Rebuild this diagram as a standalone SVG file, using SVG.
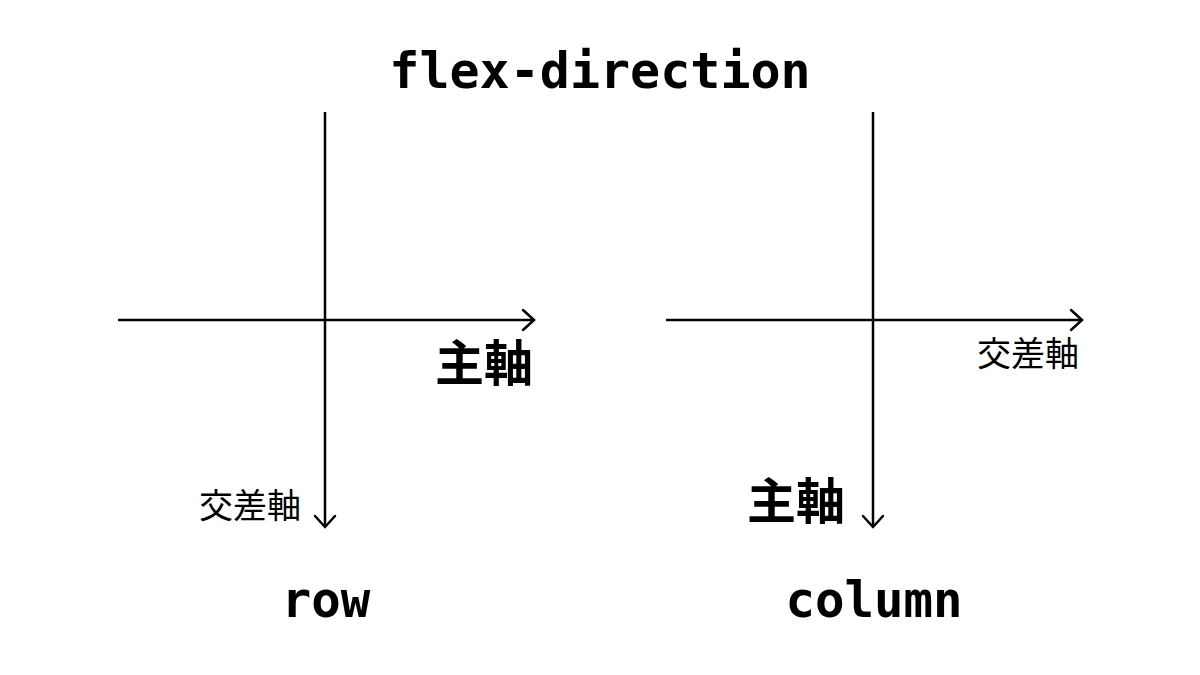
<svg xmlns="http://www.w3.org/2000/svg" width="1200" height="675" viewBox="0 0 1200 675">
<style>
.ax{stroke:#000;stroke-width:2.5;fill:none}
.hd{stroke:#000;stroke-width:2.5;fill:none;stroke-linecap:round;stroke-linejoin:miter}
.mono{font-family:"DejaVu Sans Mono","Liberation Mono",monospace;font-weight:bold;fill:#000;text-anchor:middle}
.main{font-family:"Noto Sans CJK JP","Noto Sans CJK SC",sans-serif;font-weight:bold;font-size:49px;fill:#000}
.cross{font-family:"Noto Sans CJK JP","Noto Sans CJK SC",sans-serif;font-weight:normal;font-size:34px;fill:#000}
</style>
<rect width="1200" height="675" fill="#fff"/>
<g id="title"><text class="mono" x="600" y="88" font-size="50">flex-direction</text></g>
<g id="connectors">
<line class="ax" x1="325" y1="112" x2="325" y2="526"/>
<line class="ax" x1="118" y1="320" x2="533" y2="320"/>
<path class="hd" d="M523 310 L534 320 L523 330"/>
<path class="hd" d="M315 516 L325 527 L335 516"/>
<line class="ax" x1="873" y1="112" x2="873" y2="526"/>
<line class="ax" x1="666" y1="320" x2="1081" y2="320"/>
<path class="hd" d="M1071 310 L1082 320 L1071 330"/>
<path class="hd" d="M863 516 L873 527 L883 516"/>
</g>
<g id="row-main"><text class="main" x="435" y="381">主軸</text></g>
<g id="row-cross"><text class="cross" x="199" y="518">交差軸</text></g>
<g id="row-label"><text class="mono" x="326" y="617" font-size="49">row</text></g>
<g id="col-cross"><text class="cross" x="977" y="366">交差軸</text></g>
<g id="col-main"><text class="main" x="747" y="519">主軸</text></g>
<g id="col-label"><text class="mono" x="874" y="617" font-size="49">column</text></g>
</svg>
